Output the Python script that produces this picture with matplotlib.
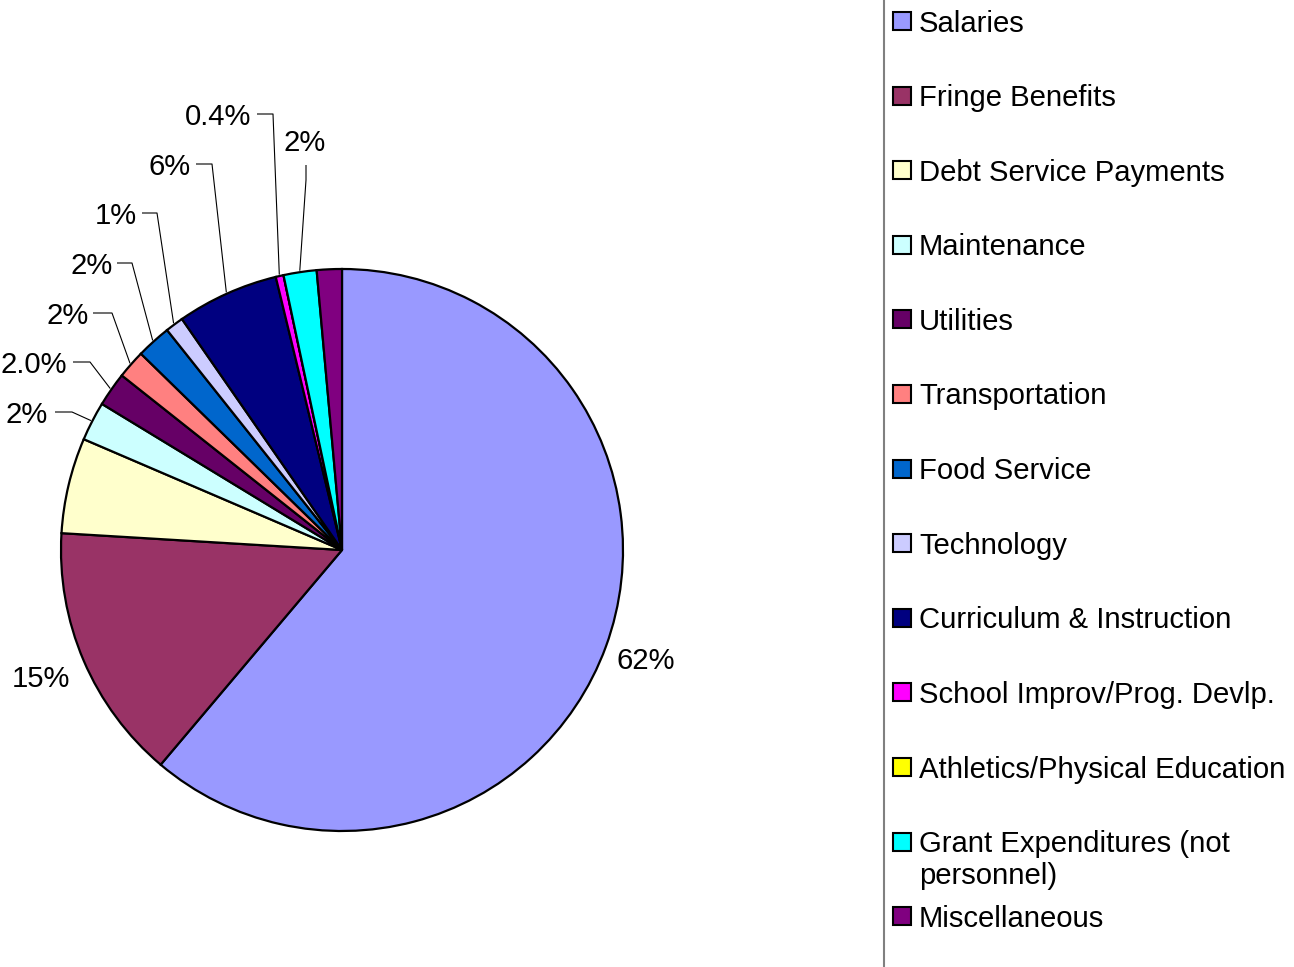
import matplotlib
matplotlib.use("Agg")
import matplotlib.pyplot as plt
from matplotlib.patches import Rectangle
import numpy as np

plt.rcParams['font.family'] = ['Liberation Sans', 'DejaVu Sans']

categories = ["Salaries", "Fringe Benefits", "Debt Service Payments", "Maintenance",
              "Utilities", "Transportation", "Food Service", "Technology",
              "Curriculum & Instruction", "School Improv/Prog. Devlp.",
              "Athletics/Physical Education", "Grant Expenditures (not\npersonnel)",
              "Miscellaneous"]
values = [61.2, 14.8, 5.5, 2.25, 1.97, 1.64, 2.0, 1.05, 5.86, 0.45, 0.0, 1.9, 1.44]
pct_labels = ["62%", "15%", "", "2%", "2.0%", "2%", "2%", "1%", "6%", "0.4%", "", "2%", ""]
colors = ["#9999FF", "#993366", "#FFFFCC", "#CCFFFF", "#660066", "#FF8080", "#0066CC",
          "#CCCCFF", "#000080", "#FF00FF", "#FFFF00", "#00FFFF", "#800080"]

W, H = 1294, 967
FS = 21.1
fig = plt.figure(figsize=(W / 100, H / 100), dpi=100)
ax = fig.add_axes([0, 0, 1, 1])
cx, cy, R = 342, 550, 281


def px(x, y):
    return ((x - cx) / R, (cy - y) / R)


wedges, _ = ax.pie(values, colors=colors, startangle=90, counterclock=False,
                   wedgeprops=dict(edgecolor="black", linewidth=1.6))
ax.set_xlim(-cx / R, (W - cx) / R)
ax.set_ylim((cy - H) / R, cy / R)
ax.set_aspect("auto")
ax.axis("off")

# labels placed directly outside (no leader)
direct = {0: 1.15, 1: 1.165}
# labels with leader lines: text centre (px) and elbow points (px)
leader = {
    3: ((27, 412), [(55, 412), (72, 412)]),
    4: ((34, 362), [(73, 362), (90, 362)]),
    5: ((68, 313), [(93, 313), (112, 313)]),
    6: ((92, 263), [(117, 263), (132, 263)]),
    7: ((116, 213), [(142, 213), (157, 213)]),
    8: ((170, 164), [(196, 164), (212, 164)]),
    9: ((218, 114), [(257, 114), (273, 114)]),
    11: ((305, 140), [(306, 165), (306, 180)]),
}

for i, w in enumerate(wedges):
    lab = pct_labels[i]
    if not lab:
        continue
    mid = np.deg2rad((w.theta1 + w.theta2) / 2)
    if i in direct:
        d = direct[i]
        ax.text(d * np.cos(mid), d * np.sin(mid), lab, ha="center", va="center",
                fontsize=FS)
    elif i in leader:
        tpos, elbows = leader[i]
        pts = [px(*p) for p in elbows] + [(1.005 * np.cos(mid), 1.005 * np.sin(mid))]
        xs, ys = zip(*pts)
        ax.plot(xs, ys, color="black", linewidth=0.8, solid_capstyle="butt")
        tx, ty = px(*tpos)
        ax.text(tx, ty, lab, ha="center", va="center_baseline", fontsize=FS)

# legend (manual, Excel-style)
fig.patches.append(Rectangle((884 / W, -0.05), 1.0, 1.1, transform=fig.transFigure,
                             fill=False, edgecolor="#808080", linewidth=1.5))
y0, step = 21, 74.6
for i, (name, col) in enumerate(zip(categories, colors)):
    yc = y0 + i * step
    fig.patches.append(Rectangle((893 / W, 1 - (yc + 9) / H), 18 / W, 18 / H,
                                 transform=fig.transFigure, facecolor=col,
                                 edgecolor="black", linewidth=1.5))
    for j, line in enumerate(name.split("\n")):
        fig.text(919 / W, 1 - (yc + 10.5 + 32 * j) / H, line, ha="left", va="baseline",
                 fontsize=FS)

fig.savefig("out.png", dpi=100)
